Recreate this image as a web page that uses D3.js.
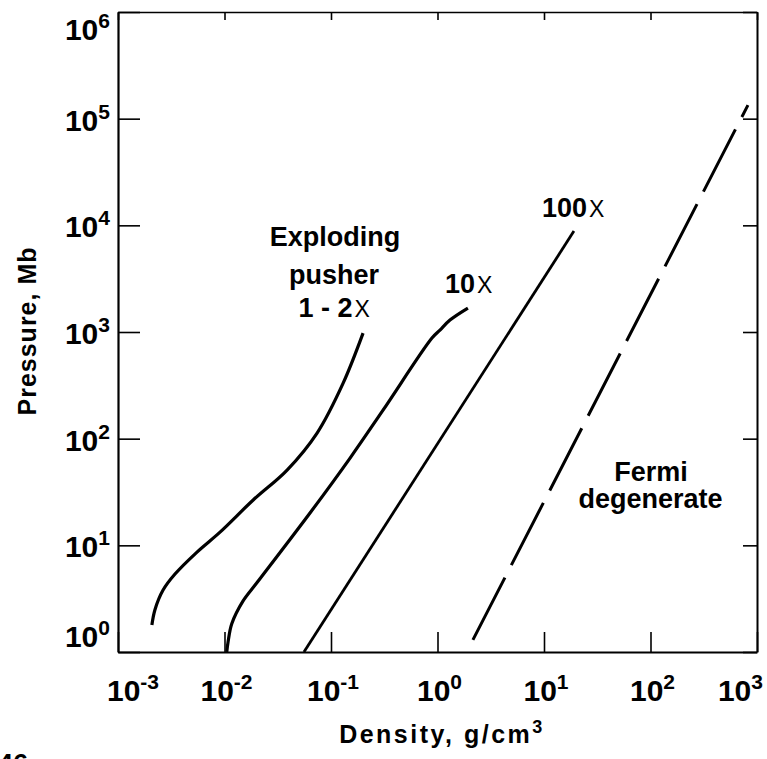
<!DOCTYPE html>
<html>
<head>
<meta charset="utf-8">
<script src="https://cdn.jsdelivr.net/npm/d3@7"></script>
<style>
  body { margin: 0; background: #fff; }
  svg { display: block; font-family: "Liberation Sans", Arial, sans-serif; font-weight: bold; }
</style>
</head>
<body>
<script>
// decades on both axes
var densityTicks = [1e-3, 1e-2, 1e-1, 1e0, 1e1, 1e2, 1e3];
var pressureTicks = [1e0, 1e1, 1e2, 1e3, 1e4, 1e5, 1e6];

// exploding pusher, 1 - 2X
var pusherDensity = [0.00208, 0.00222, 0.00265, 0.00343, 0.00552, 0.00908, 0.0186, 0.0387, 0.074, 0.130, 0.200];
var pusherPressure = [1.79, 2.48, 3.81, 5.38, 8.65, 13.3, 26.6, 50.8, 113, 332, 977];

// 10X
var tenDensity = [0.0105, 0.0108, 0.0117, 0.0149, 0.0203, 0.0635, 0.151, 0.308, 0.887, 1.055, 1.31, 1.93];
var tenPressure = [1.0, 1.24, 1.84, 3.0, 4.5, 20.1, 65.8, 185, 877, 1042, 1293, 1675];

// 100X
var hundredDensity = [0.0557, 19.1];
var hundredPressure = [1.0, 8830];

// Fermi degenerate
var fermiDensity = [2.15, 822];
var fermiPressure = [1.30, 134000];

var W = 767, H = 759;
var m = {left: 118, right: 757, top: 12, bottom: 652};

var svg = d3.select('body').append('svg')
	.attr('width', W)
	.attr('height', H);

var x = d3.scaleLog()
	.domain([1e-3, 1e3])
	.range([m.left, m.right]);

var y = d3.scaleLog()
	.domain([1, 1e6])
	.range([m.bottom, m.top]);

// frame with inward ticks
function styleAxis(g, w) {
	g.selectAll('path.domain').attr('stroke', '#000').attr('stroke-width', w);
	g.selectAll('.tick line').attr('stroke', '#000').attr('stroke-width', 1.6);
	g.selectAll('.tick text').remove();
}

svg.append('g')
	.attr('transform', 'translate(' + m.left + ',0)')
	.call(d3.axisLeft(y).tickValues(pressureTicks).tickSize(-22).tickSizeOuter(0).tickFormat(''))
	.call(styleAxis, 2.2);

svg.append('g')
	.attr('transform', 'translate(' + m.right + ',0)')
	.call(d3.axisRight(y).tickValues(pressureTicks).tickSize(-14).tickSizeOuter(0).tickFormat(''))
	.call(styleAxis, 2);

svg.append('g')
	.attr('transform', 'translate(0,' + m.bottom + ')')
	.call(d3.axisBottom(x).tickValues(densityTicks).tickSize(-20).tickSizeOuter(0).tickFormat(''))
	.call(styleAxis, 2.2);

svg.append('g')
	.attr('transform', 'translate(0,' + m.top + ')')
	.call(d3.axisTop(x).tickValues(densityTicks).tickSize(-8).tickSizeOuter(0).tickFormat(''))
	.call(styleAxis, 1.5);

// tick labels: 10 with a superscript exponent
function power(sel, e) {
	sel.append('tspan').text('10');
	sel.append('tspan')
		.attr('dy', -12)
		.style('font-size', '21px')
		.text(e);
}

svg.selectAll('.ylab')
	.data(pressureTicks)
.enter().append('text')
	.attr('class', 'ylab')
	.attr('x', 110)
	.attr('y', function(d) {
		if (d === 1e6) return y(d) + 28;
		if (d === 1) return y(d) - 5;
		return y(d) + 12;
	})
	.attr('text-anchor', 'end')
	.style('font-size', '30px')
	.each(function(d) { power(d3.select(this), Math.round(Math.log10(d))); });

svg.selectAll('.xlab')
	.data(densityTicks)
.enter().append('text')
	.attr('class', 'xlab')
	.attr('x', function(d) {
		if (d === 1e-3) return x(d) + 15;
		if (d === 1e3) return x(d) + 6;
		return x(d) + 2;
	})
	.attr('y', 701)
	.attr('text-anchor', function(d) { return d === 1e3 ? 'end' : 'middle'; })
	.style('font-size', '30px')
	.each(function(d) {
		var e = Math.round(Math.log10(d));
		power(d3.select(this), e < 0 ? '-' + (-e) : e);
	});

// axis titles
var xt = svg.append('text')
	.attr('x', 442)
	.attr('y', 743)
	.attr('text-anchor', 'middle')
	.style('font-size', '25px')
	.style('letter-spacing', '2.5px')
	.text('Density, g/cm');
xt.append('tspan')
	.attr('dy', -10)
	.style('font-size', '18px')
	.text('3');

svg.append('text')
	.attr('transform', 'translate(36,331) rotate(-90)')
	.attr('text-anchor', 'middle')
	.style('font-size', '25px')
	.style('letter-spacing', '1px')
	.text('Pressure, Mb');

// page number, cut off by the bottom edge
svg.append('text')
	.attr('x', -2)
	.attr('y', 773)
	.style('font-size', '27px')
	.text('46');

// curves
function pts(xs, ys) {
	return xs.map(function(v, i) { return [v, ys[i]]; });
}

var line = d3.line()
	.x(function(d) { return x(d[0]); })
	.y(function(d) { return y(d[1]); })
	.curve(d3.curveCatmullRom.alpha(0.5));

svg.append('path')
	.datum(pts(pusherDensity, pusherPressure))
	.attr('d', line)
	.attr('fill', 'none')
	.attr('stroke', '#000')
	.attr('stroke-width', 3.2);

svg.append('path')
	.datum(pts(tenDensity, tenPressure))
	.attr('d', line)
	.attr('fill', 'none')
	.attr('stroke', '#000')
	.attr('stroke-width', 3.2);

svg.append('path')
	.datum(pts(hundredDensity, hundredPressure))
	.attr('d', line)
	.attr('fill', 'none')
	.attr('stroke', '#000')
	.attr('stroke-width', 2.8);

svg.append('path')
	.datum(pts(fermiDensity, fermiPressure))
	.attr('d', line)
	.attr('fill', 'none')
	.attr('stroke', '#000')
	.attr('stroke-width', 3)
	.attr('stroke-dasharray', '70,14');

// curve labels, anchored in data units
function label(dx, py, anchor, str, cross) {
	var t = svg.append('text')
		.attr('x', x(dx))
		.attr('y', y(py))
		.attr('text-anchor', anchor)
		.style('font-size', '27px')
		.text(str);
	if (cross) {
		t.append('tspan')
			.attr('dx', 2)
			.style('font-weight', 'normal')
			.style('font-size', '23px')
			.text('X');
	}
}

label(0.109, 6400, 'middle', 'Exploding', false);
label(0.107, 2810, 'middle', 'pusher', false);
label(0.107, 1380, 'middle', '1 - 2', true);
label(1.175, 2315, 'start', '10', true);
label(9.58, 11900, 'start', '100', true);
label(101, 40.5, 'middle', 'Fermi', false);
label(100, 22.4, 'middle', 'degenerate', false);
</script>
</body>
</html>
